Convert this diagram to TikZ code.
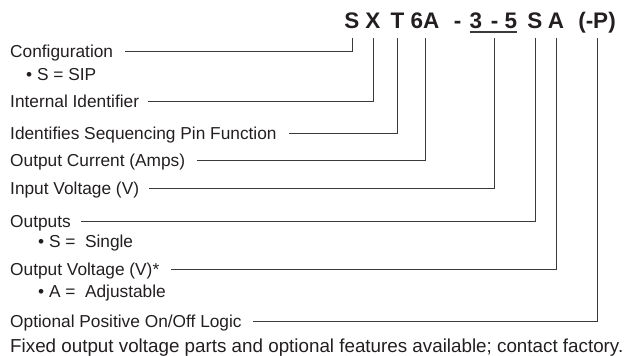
\documentclass[tikz,border=0pt]{standalone}
\usepackage{fontspec}
\setmainfont{Liberation Sans}
\definecolor{txt}{HTML}{231F20}
\definecolor{ln}{HTML}{3A3A3A}
\begin{document}
\begin{tikzpicture}[x=1pt,y=-1pt,
  lab/.style={anchor=base west, inner sep=0pt, font=\fontsize{17.3}{20}\selectfont, text=txt},
  note/.style={anchor=base west, inner sep=0pt, font=\fontsize{18.8}{22}\selectfont, text=txt},
  code/.style={anchor=base, inner sep=0pt, font=\fontsize{22.5}{26}\selectfont\bfseries, text=txt},
  lead/.style={draw=ln, line width=0.9pt}]
\useasboundingbox (0,0) rectangle (630,356);
% part number
\node[code] (cS)  at (352,28)   {S};
\node[code] (cX)  at (373,28)   {X};
\node[code] (cT)  at (397.5,28) {T};
\node[code] (c6A) at (425,28)   {6A};
\node[code] (cD1) at (457.5,28) {-};
\node[code] (c3)  at (476,28)   {3};
\node[code] (cD2) at (494.5,28) {-};
\node[code] (c5)  at (511,28)   {5};
\node[code] (cS2) at (535,28)   {S};
\node[code] (cA)  at (556,28)   {A};
\node[code] (cP)  at (597,28)   {(-P)};
\draw[lead, line width=1.1pt] ([yshift=-4pt]c3.base west) -- ([yshift=-4pt]c5.base east);
% labels
\node[lab] (l1)  at (10,57)    {Configuration};
\node[lab] (l1b) at (26,80)    {\textbullet\ S = SIP};
\node[lab] (l2)  at (10,107.7) {Internal Identifier};
\node[lab] (l3)  at (10,139)   {Identifies Sequencing Pin Function};
\node[lab] (l4)  at (10,166)   {Output Current (Amps)};
\node[lab] (l5)  at (10,194)   {Input Voltage (V)};
\node[lab] (l6)  at (10,227.5) {Outputs};
\node[lab] (l6b) at (38,247)   {\textbullet\ S =\hspace{0.55em}Single};
\node[lab] (l7)  at (10,275)   {Output Voltage (V)*};
\node[lab] (l7b) at (38,297)   {\textbullet\ A =\hspace{0.55em}Adjustable};
\node[lab] (l8)  at (10,327)   {Optional Positive On/Off Logic};
\node[note] (l9) at (10,352.5) {Fixed output voltage parts and optional features available; contact factory.};
% leaders
\draw[lead] ([xshift=12pt,yshift=6pt]l1.base east) -| ([yshift=-9.5pt]cS.base);
\draw[lead] ([xshift=9pt,yshift=6pt]l2.base east)  -| ([yshift=-9.5pt]cX.base);
\draw[lead] ([xshift=12pt,yshift=6pt]l3.base east) -| ([yshift=-9.5pt]cT.base);
\draw[lead] ([xshift=12pt,yshift=6pt]l4.base east) -| ([yshift=-9.5pt]c6A.base);
\draw[lead] ([xshift=10pt,yshift=6pt]l5.base east) -| ([yshift=-9.5pt]cD2.base);
\draw[lead] ([xshift=10pt,yshift=6pt]l6.base east) -| ([yshift=-9.5pt]cS2.base);
\draw[lead] ([xshift=12pt,yshift=6pt]l7.base east) -| ([yshift=-9.5pt]cA.base);
\draw[lead] ([xshift=11pt,yshift=6pt]l8.base east) -| ([yshift=-9.5pt]cP.base);
\end{tikzpicture}
\end{document}
